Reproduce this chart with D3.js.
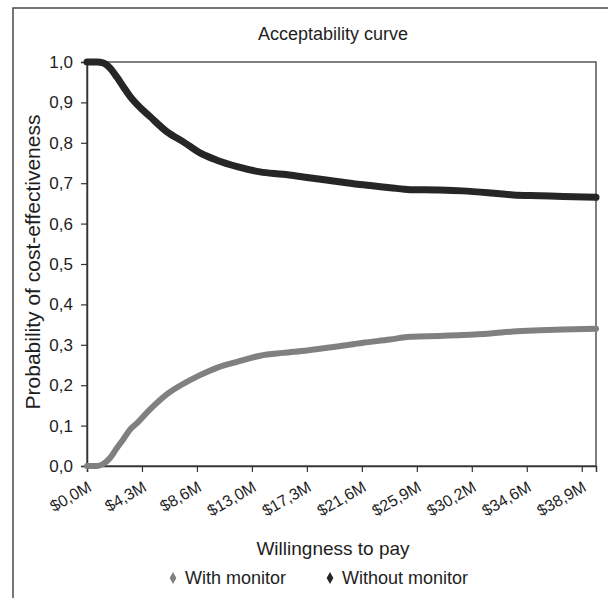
<!DOCTYPE html>
<html><head><meta charset="utf-8">
<script src="https://cdn.jsdelivr.net/npm/d3@7/dist/d3.min.js"></script>
<style>body{margin:0;background:#fff}svg{display:block;font-family:"Liberation Sans",Arial,sans-serif}</style>
</head><body><svg id="c" width="608" height="598"></svg>
<script>
// Willingness to pay (million $)
const wtp = [0, 0.79, 1.26, 1.81, 2.36, 2.83, 3.38, 3.93, 4.95, 6.29, 7.54, 8.88, 10.2, 11.8, 13.6, 15.4, 17.3, 19.5, 21.7, 23.8, 25.4, 27.7, 29.5, 31.7, 33.5, 35.6, 37.4, 40.0];
const withMonitor = [0.0, 0.0, 0.005, 0.02, 0.045, 0.065, 0.09, 0.106, 0.14, 0.178, 0.203, 0.225, 0.243, 0.258, 0.273, 0.280, 0.286, 0.295, 0.305, 0.313, 0.320, 0.322, 0.324, 0.328, 0.333, 0.336, 0.338, 0.340];
const withoutMonitor = [1.0, 1.0, 0.998, 0.985, 0.962, 0.94, 0.915, 0.895, 0.865, 0.827, 0.803, 0.775, 0.757, 0.741, 0.728, 0.722, 0.714, 0.705, 0.696, 0.689, 0.684, 0.683, 0.681, 0.676, 0.671, 0.669, 0.667, 0.665];
const xTickValues = [0, 4.32, 8.64, 12.96, 17.28, 21.6, 25.92, 30.24, 34.56, 38.88];
const xTickLabels = ["$0,0M", "$4,3M", "$8,6M", "$13,0M", "$17,3M", "$21,6M", "$25,9M", "$30,2M", "$34,6M", "$38,9M"];
const yTickValues = [0, 0.1, 0.2, 0.3, 0.4, 0.5, 0.6, 0.7, 0.8, 0.9, 1.0];
const yTickLabels = ["0,0", "0,1", "0,2", "0,3", "0,4", "0,5", "0,6", "0,7", "0,8", "0,9", "1,0"];
const seriesNames = ["With monitor", "Without monitor"];
const seriesColors = ["#808080", "#262626"];
const titleText = "Acceptability curve";
const xTitle = "Willingness to pay";
const yTitle = "Probability of cost-effectiveness";

const svg = d3.select("#c");
const FONT = '"Liberation Sans",Arial,sans-serif';
const L = 87, R = 596, T = 62, B = 466;
const x = d3.scaleLinear().domain([0, 40]).range([L, R]);
const y = d3.scaleLinear().domain([0, 1]).range([B, T]);

// outer chart border
svg.append("rect").attr("x", 13).attr("y", 8).attr("width", 620).attr("height", 620)
  .attr("fill", "none").attr("stroke", "#4a4a4a").attr("stroke-width", 1.5);

// plot area border
svg.append("rect").attr("x", L).attr("y", T).attr("width", R - L).attr("height", B - T)
  .attr("fill", "none").attr("stroke", "#555").attr("stroke-width", 1.5);

// axes
const yAxis = d3.axisLeft(y).tickValues(yTickValues).tickSize(6).tickPadding(8)
  .tickFormat((d, i) => yTickLabels[i]);
const gy = svg.append("g").attr("transform", `translate(${L},0)`).call(yAxis);
gy.select(".domain").attr("stroke", "#333").attr("stroke-width", 1.5);
gy.selectAll(".tick line").attr("stroke", "#333").attr("stroke-width", 1.2);
gy.selectAll(".tick text").attr("font-size", 17).attr("fill", "#1e1e1e")
  .attr("font-family", FONT);

const xAxis = d3.axisBottom(x).tickValues(xTickValues).tickSize(6)
  .tickFormat((d, i) => xTickLabels[i]);
const gx = svg.append("g").attr("transform", `translate(0,${B})`).call(xAxis);
gx.select(".domain").attr("stroke", "#333").attr("stroke-width", 1.5);
gx.selectAll(".tick line").attr("stroke", "#333").attr("stroke-width", 1.2);
gx.selectAll(".tick text").attr("font-size", 16).attr("fill", "#1e1e1e")
  .attr("font-family", FONT)
  .attr("text-anchor", "end").attr("dy", 0).attr("y", 0)
  .attr("transform", "translate(5,24) rotate(-30)");

// series lines
const line = d3.line().x((d, i) => x(wtp[i])).y(d => y(d)).curve(d3.curveMonotoneX);
[withMonitor, withoutMonitor].forEach((s, k) => {
  svg.append("path").datum(s).attr("d", line).attr("fill", "none")
    .attr("stroke", seriesColors[k]).attr("stroke-width", k === 0 ? 6 : 7)
    .attr("stroke-linecap", "round").attr("stroke-linejoin", "round");
});

// titles
svg.append("text").attr("x", 333).attr("y", 40).attr("text-anchor", "middle")
  .attr("font-size", 18).attr("fill", "#1e1e1e").text(titleText);
svg.append("text").attr("x", 333).attr("y", 555).attr("text-anchor", "middle")
  .attr("font-size", 19).attr("fill", "#1e1e1e").text(xTitle);
svg.append("text").attr("transform", "translate(40,262) rotate(-90)").attr("text-anchor", "middle")
  .attr("font-size", 21).attr("fill", "#1e1e1e").text(yTitle);

// legend
const legX = [173, 330];
seriesNames.forEach((n, k) => {
  svg.append("path").attr("d", d3.symbol(d3.symbolDiamond, 40)())
    .attr("transform", `translate(${legX[k]},578)`).attr("fill", seriesColors[k]);
  svg.append("text").attr("x", legX[k] + 12).attr("y", 584)
    .attr("font-size", 18).attr("fill", "#1e1e1e").text(n);
});
</script></body></html>
